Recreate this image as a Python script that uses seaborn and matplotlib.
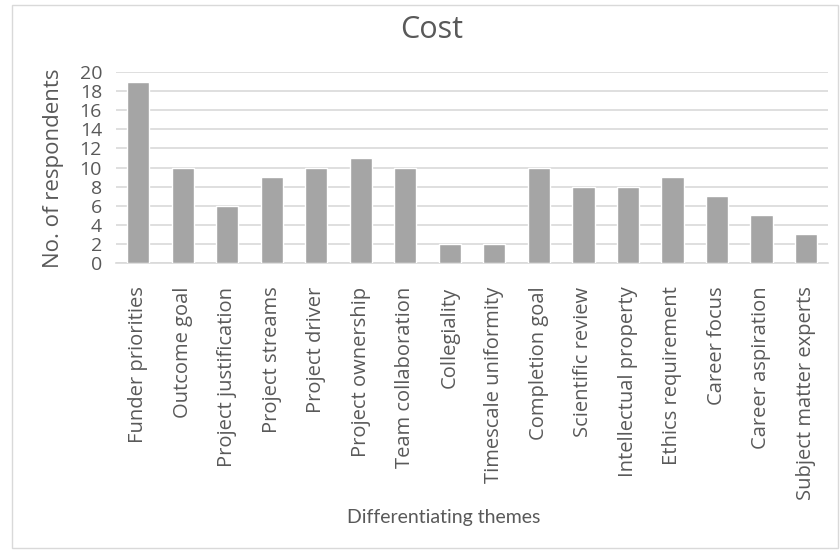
import matplotlib
matplotlib.use("Agg")
import matplotlib.pyplot as plt
import seaborn as sns
import pandas as pd
from matplotlib.patches import Rectangle

themes = [
    "Funder priorities", "Outcome goal", "Project justification", "Project streams",
    "Project driver", "Project ownership", "Team collaboration", "Collegiality",
    "Timescale uniformity", "Completion goal", "Scientific review", "Intellectual property",
    "Ethics requirement", "Career focus", "Career aspiration", "Subject matter experts",
]
respondents = [19, 10, 6, 9, 10, 11, 10, 2, 2, 10, 8, 8, 9, 7, 5, 3]
y_ticks = list(range(0, 21, 2))

df = pd.DataFrame({"theme": themes, "count": respondents})

sns.set_theme(style="white")
plt.rcParams["font.family"] = ["Open Sans", "DejaVu Sans"]

text_color = "#595959"
grid_color = "#d9d9d9"

fig = plt.figure(figsize=(8.4, 5.5), dpi=100)
ax = fig.add_axes([0.138, 0.5218, 0.848, 0.3473])

sns.barplot(data=df, x="theme", y="count", color="#a5a5a5", width=0.5,
            saturation=1, ax=ax, zorder=3)

ax.set_ylim(0, 20)
ax.set_xlim(-0.5, len(themes) - 0.5)
ax.set_yticks(y_ticks)
ax.yaxis.grid(True, color=grid_color, linewidth=1.2, zorder=0)
ax.set_axisbelow(True)
for side in ["top", "right", "left"]:
    ax.spines[side].set_visible(False)
ax.spines["bottom"].set_color(grid_color)
ax.spines["bottom"].set_linewidth(1.2)
ax.tick_params(axis="both", length=0, colors=text_color)
ax.tick_params(axis="y", pad=10, labelsize=14)
ax.tick_params(axis="x", pad=17, labelsize=14.5)
plt.setp(ax.get_xticklabels(), rotation=90)

ax.set_xlabel("")
ax.set_ylabel("")
fig.text(54 / 840, 0.695, "No. of respondents", rotation=90, ha="center",
         va="center", color=text_color, fontsize=16)
fig.text(444 / 840, 1 - 523 / 550, "Differentiating themes", ha="center",
         va="baseline", color=text_color, fontsize=14, family=["Lato", "DejaVu Sans"])
fig.text(432 / 840, 1 - 38 / 550, "Cost", ha="center", va="baseline",
         color=text_color, fontsize=22)

fig.add_artist(Rectangle((12 / 840, 2 / 550), 826 / 840, 543 / 550,
                         transform=fig.transFigure, fill=False,
                         edgecolor="#d9d9d9", linewidth=1))

fig.savefig("out.png", dpi=100, facecolor="white")
